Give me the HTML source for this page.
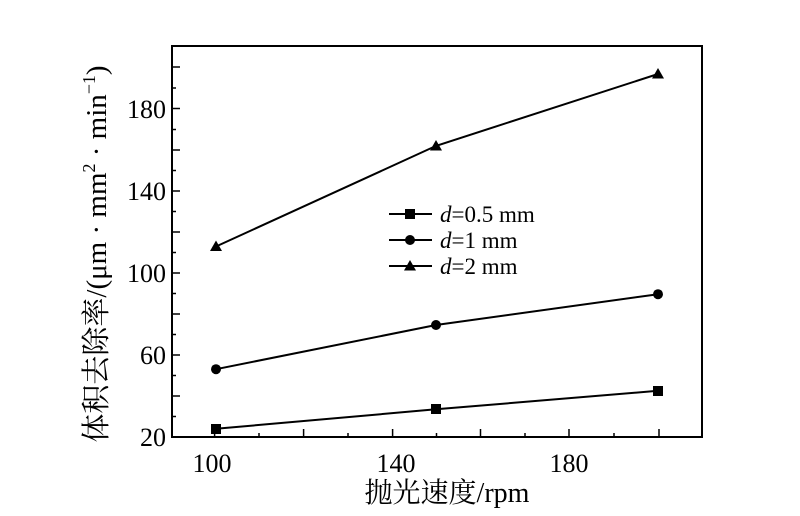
<!DOCTYPE html>
<html><head><meta charset="utf-8"><style>body{margin:0;background:#fff}</style></head><body>
<svg width="800" height="511" xmlns="http://www.w3.org/2000/svg" font-family="Liberation Serif, Noto Serif CJK SC, serif">
<rect x="0" y="0" width="800" height="511" fill="#fff"/>
<rect x="172" y="46" width="530" height="391" fill="none" stroke="#000" stroke-width="2"/>
<g stroke="#000" stroke-width="1.5">
<line x1="214.6" y1="437" x2="214.6" y2="429"/><line x1="259" y1="437" x2="259" y2="433"/>
<line x1="303.6" y1="437" x2="303.6" y2="429"/><line x1="348" y1="437" x2="348" y2="433"/>
<line x1="392.6" y1="437" x2="392.6" y2="429"/><line x1="436.5" y1="437" x2="436.5" y2="433"/>
<line x1="480.5" y1="437" x2="480.5" y2="429"/><line x1="525" y1="437" x2="525" y2="433"/>
<line x1="569" y1="437" x2="569" y2="429"/><line x1="614" y1="437" x2="614" y2="433"/>
<line x1="659" y1="437" x2="659" y2="429"/>
<line x1="172" y1="416.5" x2="176" y2="416.5"/><line x1="172" y1="396" x2="180" y2="396"/>
<line x1="172" y1="375.5" x2="176" y2="375.5"/><line x1="172" y1="355" x2="180" y2="355"/>
<line x1="172" y1="334.5" x2="176" y2="334.5"/><line x1="172" y1="314" x2="180" y2="314"/>
<line x1="172" y1="293.5" x2="176" y2="293.5"/><line x1="172" y1="273" x2="180" y2="273"/>
<line x1="172" y1="252.5" x2="176" y2="252.5"/><line x1="172" y1="232" x2="180" y2="232"/>
<line x1="172" y1="211.5" x2="176" y2="211.5"/><line x1="172" y1="191" x2="180" y2="191"/>
<line x1="172" y1="170.5" x2="176" y2="170.5"/><line x1="172" y1="150" x2="180" y2="150"/>
<line x1="172" y1="129.5" x2="176" y2="129.5"/><line x1="172" y1="108.5" x2="180" y2="108.5"/>
<line x1="172" y1="88" x2="176" y2="88"/><line x1="172" y1="67" x2="180" y2="67"/>
</g>
<g font-size="26" text-anchor="end">
<text x="166" y="446">20</text><text x="166" y="364">60</text><text x="166" y="282">100</text>
<text x="166" y="200">140</text><text x="166" y="118">180</text>
</g>
<g font-size="26" text-anchor="middle">
<text x="212" y="472">100</text><text x="396" y="472">140</text><text x="569" y="472">180</text>
</g>
<text x="447" y="502" font-size="28" text-anchor="middle">抛光速度/rpm</text>
<text transform="translate(106,254) rotate(-90)" font-size="29" text-anchor="middle">体积去除率/(μm · mm<tspan font-size="18" dy="-11">2</tspan><tspan dy="11"> · min</tspan><tspan font-size="18" dy="-11">−1</tspan><tspan dy="11">)</tspan></text>
<g stroke="#000" stroke-width="2" fill="none">
<polyline points="216,428.8 436,409.3 658,390.8"/>
<polyline points="216,369.2 436,325 658,294.2"/>
<polyline points="216,246.5 436,145.9 658,74"/>
<line x1="389" y1="214" x2="432" y2="214"/>
<line x1="389" y1="240" x2="432" y2="240"/>
<line x1="389" y1="266" x2="432" y2="266"/>
</g>
<g fill="#000">
<rect x="211" y="424" width="10" height="10"/><rect x="431" y="404" width="10" height="10"/><rect x="653" y="386" width="10" height="10"/>
<circle cx="216" cy="369.2" r="5"/><circle cx="436" cy="325" r="5"/><circle cx="658" cy="294.2" r="5"/>
<polygon points="216,240.5 222,251 210,251"/><polygon points="436,140 442,150.5 430,150.5"/><polygon points="658,68 664,78.5 652,78.5"/>
<rect x="405" y="209" width="10" height="10"/>
<circle cx="410" cy="240" r="5"/>
<polygon points="410,260 416,270.5 404,270.5"/>
</g>
<g font-size="23">
<text x="440" y="222"><tspan font-style="italic">d</tspan>=0.5 mm</text>
<text x="440" y="248"><tspan font-style="italic">d</tspan>=1 mm</text>
<text x="440" y="274"><tspan font-style="italic">d</tspan>=2 mm</text>
</g>
</svg>
</body></html>
